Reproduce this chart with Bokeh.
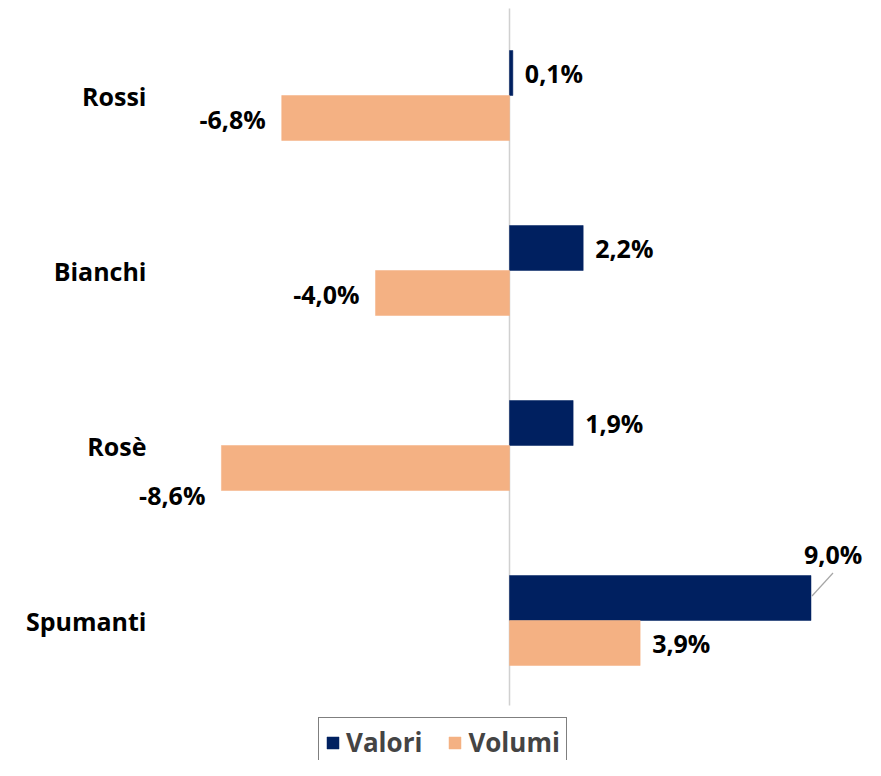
from bokeh.plotting import figure
from bokeh.models import ColumnDataSource, Range1d, Legend, LegendItem
from bokeh.core.properties import value
from bokeh.embed import file_html
from bokeh.resources import INLINE

# ---- data ----
categories = ["Rossi", "Bianchi", "Rosè", "Spumanti"]
valori = [0.1, 2.2, 1.9, 9.0]
volumi = [-6.8, -4.0, -8.6, 3.9]
series_names = ["Valori", "Volumi"]

# ---- layout constants ----
W, H = 865, 760
PX_X = 33.5      # pixels per percentage point
PX_Y = 175.0     # pixels per category
X0 = 509         # screen x of zero
Y0 = 95          # screen y of first category centre
BAR_H = 45 / PX_Y
FONT = "Open Sans"
FS = "25px"
NAVY = "#002060"
PEACH = "#F4B183"


def fmt(v):
    return f"{v:.1f}%".replace(".", ",")


idx = list(range(len(categories)))
y_val = [i - BAR_H / 2 for i in idx]
y_vol = [i + BAR_H / 2 for i in idx]

p = figure(width=W, height=H, output_backend="svg", toolbar_location=None,
           x_axis_location=None, y_axis_location=None,
           x_range=Range1d(-X0 / PX_X, (W - X0) / PX_X),
           y_range=Range1d((H - Y0) / PX_Y, -Y0 / PX_Y),
           min_border=0, outline_line_color=None)
p.grid.grid_line_color = None
p.background_fill_color = "white"

# zero line
p.segment(x0=[0], y0=[-(Y0 - 8) / PX_Y], x1=[0], y1=[idx[-1] + 0.486],
          line_color="#D0D0D0", line_width=1.5)

src_val = ColumnDataSource(dict(y=y_val, v=valori, lab=[fmt(v) for v in valori]))
src_vol = ColumnDataSource(dict(y=y_vol, v=volumi, lab=[fmt(v) for v in volumi]))

r_val = p.hbar(y="y", right="v", left=0, height=BAR_H, source=src_val,
               fill_color=NAVY, line_color=NAVY, line_width=0.5)
r_vol = p.hbar(y="y", right="v", left=0, height=BAR_H, source=src_vol,
               fill_color=PEACH, line_color=PEACH, line_width=0.5)

# category labels
p.text(x=[-X0 / PX_X + 146 / PX_X] * len(idx), y=idx, text=categories,
       text_font=value(FONT), text_font_style="bold", text_font_size=FS,
       text_align="right", text_baseline="middle", text_color="black")

TXT = dict(text_baseline="middle", text_font=value(FONT), text_font_style="bold",
           text_font_size=FS, text_color="black")


# value labels
def labels(ys, vals, special):
    for y, v in zip(ys, vals):
        t = fmt(v)
        if t in special:
            continue
        if v >= 0:
            p.text(x=[v], y=[y], text=[t], x_offset=12, text_align="left", **TXT)
        else:
            p.text(x=[v], y=[y], text=[t], x_offset=-16, y_offset=1,
                   text_align="right", **TXT)


labels(y_val, valori, {"9,0%"})
labels(y_vol, volumi, {"-8,6%"})

# special label: -8,6% below-left of bar
i86 = volumi.index(-8.6)
p.text(x=[volumi[i86]], y=[y_vol[i86]], text=[fmt(volumi[i86])], x_offset=-16, y_offset=27,
       text_align="right", **TXT)

# special label: 9,0% above with leader line
i90 = valori.index(9.0)
p.text(x=[valori[i90]], y=[y_val[i90]], text=[fmt(valori[i90])], x_offset=-7, y_offset=-44,
       text_align="left", **TXT)
p.segment(x0=[valori[i90] + 1 / PX_X], y0=[y_val[i90] - 2 / PX_Y],
          x1=[valori[i90] + 22 / PX_X], y1=[y_val[i90] - 25 / PX_Y],
          line_color="#A6A6A6", line_width=1.2)

legend = Legend(items=[LegendItem(label=series_names[0], renderers=[r_val]),
                       LegendItem(label=series_names[1], renderers=[r_vol])],
                orientation="horizontal", location=(318, -7),
                label_text_font=FONT, label_text_font_style="bold",
                label_text_font_size="26px", glyph_width=15, glyph_height=15,
                label_standoff=6, spacing=25, padding=6,
                border_line_color="black", border_line_width=1.5,
                background_fill_color="white", background_fill_alpha=1.0)
p.add_layout(legend, "center")

open("out.html", "w").write(file_html(p, INLINE))
